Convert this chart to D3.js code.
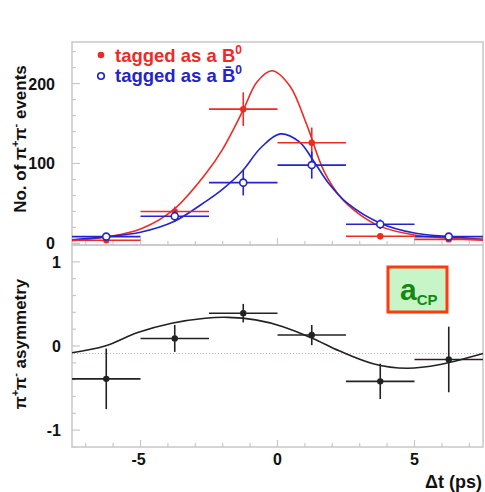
<!DOCTYPE html>
<html>
<head>
<meta charset="utf-8">
<script src="https://cdn.jsdelivr.net/npm/d3@7"></script>
<style>
  body { margin: 0; background: #fff; }
  text { font-family: "Liberation Sans", Arial, sans-serif; font-weight: bold; }
</style>
</head>
<body>
<script>
//Bin centres of the delta t histogram (ps) and half width of a bin
var binCenters = [-6.25, -3.75, -1.25, 1.25, 3.75, 6.25];
var binHalfWidth = 1.25;

//Events tagged as B0 (filled red) and anti-B0 (open blue)
var b0Counts = [4, 40, 168, 126, 9, 5];
var b0Errors = [3, 6, 21, 19, 4, 3];
var b0barCounts = [8.5, 34, 76, 98, 24, 8.5];
var b0barErrors = [4, 7, 16, 17, 6, 4];

//Asymmetry points
var asymValues = [-0.39, 0.09, 0.39, 0.13, -0.42, -0.16];
var asymErrors = [0.36, 0.16, 0.11, 0.12, 0.21, 0.39];

//Fit curves as [dt, value]
var b0Fit = [[-7.5, 3.5], [-6.25, 8], [-5, 18], [-3.8, 42], [-2.6, 88], [-2, 118], [-1.25, 167],
  [-0.75, 202], [-0.2, 216], [0.45, 197], [1.05, 150], [1.7, 90], [2.32, 57],
  [2.93, 38], [3.77, 21], [5, 10.5], [6.25, 6.5], [7.5, 4]];
var b0barFit = [[-7.5, 4.5], [-6.25, 8.5], [-5, 14], [-3.8, 27], [-2.6, 53], [-2, 68],
  [-1.3, 90], [-0.6, 120], [0.1, 137], [0.8, 127], [1.3, 104], [1.85, 76], [2.56, 50],
  [3.77, 25], [5, 13], [6.25, 8.5], [7.5, 5]];
var asymFit = [[-7.5, -0.08], [-6.3, 0.0], [-5.1, 0.16], [-3.86, 0.27], [-2.64, 0.33],
  [-1.8, 0.34], [-0.8, 0.31], [0.2, 0.23], [1.29, 0.09], [2.27, -0.06],
  [3.49, -0.21], [4.72, -0.265], [5.94, -0.22], [7.5, -0.09]];
var asymRefLine = -0.09;

//Tick values
var xMajor = [-5, 0, 5];
var xMinor = d3.range(-7, 8, 1);
var topMajor = [0, 100, 200];
var topMinor = d3.range(0, 241, 20);
var botMajor = [-1, 0, 1];
var botMinor = d3.range(-12, 13, 2).map(d => d / 10);

//Sizes
var width = 485, height = 492;
var left = 72, right = 483, top1 = 42, mid = 245, bottom = 447;

var red = "#ee2a24", blue = "#2424cc", frameColor = "#c8c8c8";

const svg = d3.select("body").append("svg")
    .attr("width", width)
    .attr("height", height);

//Scales
var x = d3.scaleLinear().domain([-7.5, 7.5]).range([left, right]);
var yTop = d3.scaleLinear().domain([-2, 252]).range([mid, top1]);
var yBot = d3.scaleLinear().domain([-1.2, 1.2]).range([bottom, mid]);

//Frames and ticks for a panel
function drawFrame(y, y0, y1, major, minor, labelX) {
    const g = svg.append("g");
    g.append("rect")
        .attr("x", left).attr("y", y1)
        .attr("width", right - left).attr("height", y0 - y1)
        .attr("fill", "none").attr("stroke", frameColor).attr("stroke-width", 1.5);
    //y ticks
    g.selectAll(".ymin").data(minor).join("line")
        .attr("x1", left).attr("x2", d => major.includes(Math.round(d * 10) / 10) ? left + 8 : left + 4)
        .attr("y1", d => y(d)).attr("y2", d => y(d))
        .attr("stroke", frameColor).attr("stroke-width", 1.2);
    //x ticks
    g.selectAll(".xmin").data(xMinor).join("line")
        .attr("x1", d => x(d)).attr("x2", d => x(d))
        .attr("y1", y0).attr("y2", d => xMajor.includes(d) ? y0 - 7 : y0 - 4)
        .attr("stroke", frameColor).attr("stroke-width", 1.2);
    //y labels
    g.selectAll(".ylab").data(major).join("text")
        .attr("x", labelX).attr("y", d => y(d) + 6)
        .attr("text-anchor", "end")
        .attr("font-size", 16)
        .attr("fill", "#111")
        .text(d => d);
}
drawFrame(yTop, mid, top1, topMajor, topMinor, 55);
drawFrame(yBot, bottom, mid, botMajor, botMinor, 61);

//x tick labels
svg.selectAll(".xlab").data(xMajor).join("text")
    .attr("x", d => x(d) - (d < 0 ? 2 : 0)).attr("y", 465)
    .attr("text-anchor", "middle")
    .attr("font-size", 16)
    .attr("fill", "#111")
    .text(d => d);

svg.append("text")
    .attr("x", 482).attr("y", 488)
    .attr("text-anchor", "end")
    .attr("font-size", 18)
    .attr("fill", "#111")
    .text("\u0394t (ps)");

//Axis titles
function piLabel(cx, cy) {
    const t = svg.append("text")
        .attr("transform", `translate(${cx},${cy}) rotate(-90)`)
        .attr("text-anchor", "middle")
        .attr("font-size", 17)
        .attr("fill", "#111");
    return t;
}
var t1 = piLabel(26, 139);
t1.append("tspan").text("No. of \u03c0");
t1.append("tspan").attr("dy", -7).attr("font-size", 11).text("+");
t1.append("tspan").attr("dy", 7).text("\u03c0");
t1.append("tspan").attr("dy", -7).attr("font-size", 11).text("-");
t1.append("tspan").attr("dy", 7).text(" events");

var t2 = piLabel(26, 344);
t2.append("tspan").text("\u03c0");
t2.append("tspan").attr("dy", -7).attr("font-size", 11).text("+");
t2.append("tspan").attr("dy", 7).text("\u03c0");
t2.append("tspan").attr("dy", -7).attr("font-size", 11).text("-");
t2.append("tspan").attr("dy", 7).text(" asymmetry");

//Fit curves
var lineTop = d3.line().x(d => x(d[0])).y(d => yTop(d[1])).curve(d3.curveCatmullRom.alpha(0.5));
var lineBot = d3.line().x(d => x(d[0])).y(d => yBot(d[1])).curve(d3.curveCatmullRom.alpha(0.5));

svg.append("path").datum(b0Fit)
    .attr("d", lineTop).attr("fill", "none").attr("stroke", red).attr("stroke-width", 1.6);
svg.append("path").datum(b0barFit)
    .attr("d", lineTop).attr("fill", "none").attr("stroke", blue).attr("stroke-width", 1.6);

//Error bars and points for one series
function drawPoints(values, errors, y, color, open) {
    const g = svg.append("g");
    const data = binCenters.map((c, i) => ({c: c, v: values[i], e: errors[i]}));
    g.selectAll(".h").data(data).join("line")
        .attr("x1", d => x(d.c - binHalfWidth)).attr("x2", d => x(d.c + binHalfWidth))
        .attr("y1", d => y(d.v)).attr("y2", d => y(d.v))
        .attr("stroke", color).attr("stroke-width", 1.6);
    g.selectAll(".v").data(data).join("line")
        .attr("x1", d => x(d.c)).attr("x2", d => x(d.c))
        .attr("y1", d => y(d.v - d.e)).attr("y2", d => y(d.v + d.e))
        .attr("stroke", color).attr("stroke-width", 1.6);
    g.selectAll("circle").data(data).join("circle")
        .attr("cx", d => x(d.c)).attr("cy", d => y(d.v))
        .attr("r", open ? 3.5 : 3.2)
        .attr("fill", open ? "#fff" : color)
        .attr("stroke", color).attr("stroke-width", open ? 1.6 : 0);
}
drawPoints(b0Counts, b0Errors, yTop, red, false);
drawPoints(b0barCounts, b0barErrors, yTop, blue, true);

//Lower panel
svg.append("line")
    .attr("x1", left + 2).attr("x2", right - 2)
    .attr("y1", yBot(asymRefLine)).attr("y2", yBot(asymRefLine))
    .attr("stroke", "#f59a9a").attr("stroke-width", 1).attr("stroke-dasharray", "1,2");
svg.append("path").datum(asymFit)
    .attr("d", lineBot).attr("fill", "none").attr("stroke", "#222").attr("stroke-width", 1.6);
drawPoints(asymValues, asymErrors, yBot, "#222", false);

//Legend
var legend = [
    {label: "tagged as a B", color: red, open: false},
    {label: "tagged as a B\u0304", color: blue, open: true}
];
legend.forEach(function(d, i) {
    svg.append("circle")
        .attr("cx", 101).attr("cy", 55 + i * 21)
        .attr("r", 3.3)
        .attr("fill", d.open ? "#fff" : d.color)
        .attr("stroke", d.color).attr("stroke-width", d.open ? 1.6 : 0);
    var t = svg.append("text")
        .attr("x", 115).attr("y", 62 + i * 20)
        .attr("font-size", 18.5)
        .attr("fill", d.color);
    t.append("tspan").text(d.label);
    t.append("tspan").attr("dy", -8).attr("font-size", 12).text("0");
});

//a_CP box
svg.append("rect")
    .attr("x", 388).attr("y", 267)
    .attr("width", 59).attr("height", 45)
    .attr("fill", "#c8f5c8").attr("stroke", "#ff3a10").attr("stroke-width", 3);
var acp = svg.append("text")
    .attr("x", 400).attr("y", 300)
    .attr("fill", "#128a12")
    .attr("font-size", 30);
acp.append("tspan").text("a");
acp.append("tspan").attr("dy", 5).attr("font-size", 15).text("CP");
</script>
</body>
</html>
